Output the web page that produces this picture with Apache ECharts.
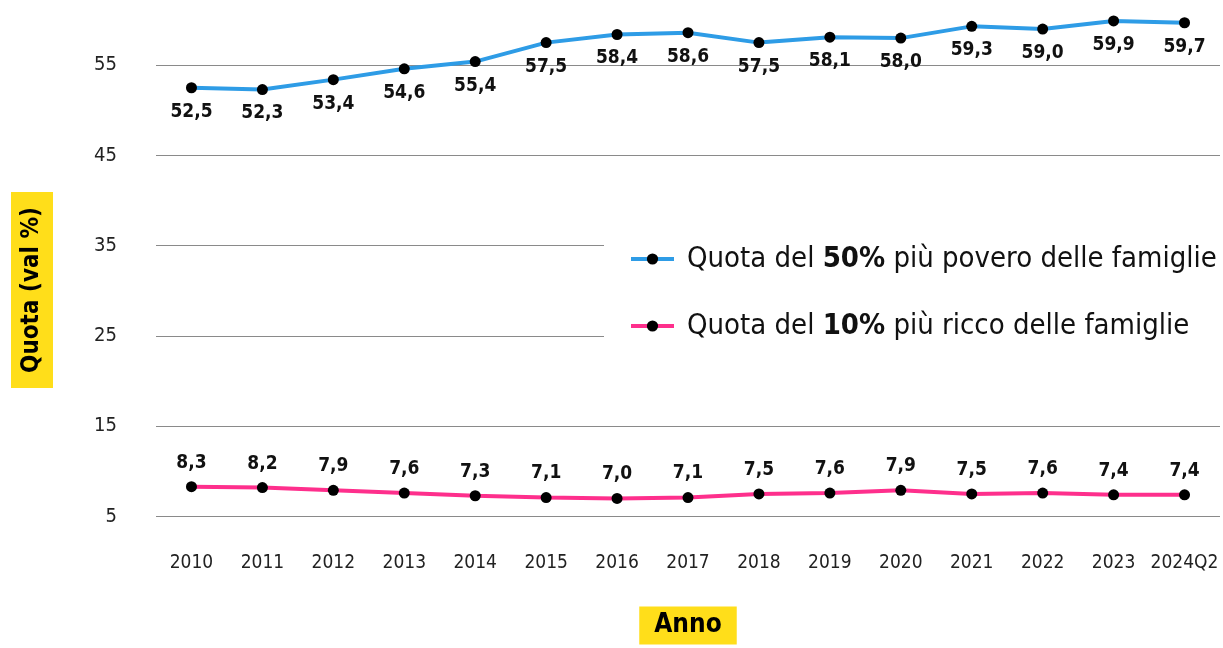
<!DOCTYPE html>
<html>
<head>
<meta charset="utf-8">
<script src="https://cdn.jsdelivr.net/npm/echarts@6/dist/echarts.min.js"></script>
<style>
  html, body { margin: 0; padding: 0; background: #fff; }
  #chart { width: 1223px; height: 648px; }
</style>
</head>
<body>
<div id="chart"></div>
<script>
(function() {
  var FONT = '"DejaVu Sans Condensed", "DejaVu Sans", sans-serif';
  var blue = '#2e9ce6';
  var pink = '#fe2f8c';
  var yellow = '#ffde1a';

  // --- data ---
  var years = ['2010', '2011', '2012', '2013', '2014', '2015', '2016', '2017',
    '2018', '2019', '2020', '2021', '2022', '2023', '2024Q2'];
  var poorShare = [52.5, 52.3, 53.4, 54.6, 55.4, 57.5, 58.4, 58.6, 57.5, 58.1, 58.0, 59.3, 59.0, 59.9, 59.7];
  var richShare = [8.3, 8.2, 7.9, 7.6, 7.3, 7.1, 7.0, 7.1, 7.5, 7.6, 7.9, 7.5, 7.6, 7.4, 7.4];
  var seriesNames = ['Quota del 50% più povero delle famiglie', 'Quota del 10% più ricco delle famiglie'];
  var yAxisTitle = 'Quota (val %)';
  var xAxisTitle = 'Anno';

  function fmt(v) { return v.toFixed(1).replace('.', ','); }

  var chart = echarts.init(document.getElementById('chart'), null, { renderer: 'canvas' });

  function lineSeries(name, data, color, labelPos) {
    return {
      name: name,
      type: 'line',
      data: data,
      symbol: 'circle',
      symbolSize: 11,
      lineStyle: { color: color, width: 4 },
      itemStyle: { color: '#000' },
      label: {
        show: true,
        position: labelPos,
        distance: 9,
        color: '#111',
        fontFamily: FONT,
        fontWeight: 'bold',
        fontSize: 19,
        formatter: function(p) { return fmt(p.value); }
      },
      emphasis: { disabled: true }
    };
  }

  chart.setOption({
    animation: false,
    backgroundColor: '#fff',
    textStyle: { fontFamily: FONT },
    grid: { left: 156, right: 3, top: 2, bottom: 131.5, outerBoundsMode: 'none', containLabel: false },
    xAxis: {
      type: 'category',
      data: years,
      boundaryGap: true,
      axisLine: { show: false },
      axisTick: { show: false },
      axisLabel: { color: '#222', fontSize: 19, margin: 37, fontFamily: FONT, interval: 0 },
      name: xAxisTitle,
      nameLocation: 'middle',
      nameGap: 90,
      nameTextStyle: {
        color: '#000', fontSize: 26, fontWeight: 'bold', fontFamily: FONT,
        backgroundColor: yellow, padding: [6, 15, 6, 15]
      }
    },
    yAxis: {
      type: 'value',
      min: 5,
      max: 62,
      interval: 10,
      axisLine: { show: false },
      axisTick: { show: false },
      axisLabel: { color: '#222', fontSize: 20, margin: 39, fontFamily: FONT, showMaxLabel: false },
      splitLine: { showMaxLine: false, lineStyle: { color: '#8a8a8a', width: 1 } }
    },
    graphic: [{
      type: 'text',
      x: 32,
      y: 290,
      rotation: Math.PI / 2,
      z: 10,
      style: {
        text: yAxisTitle,
        fill: '#000',
        fontSize: 24,
        fontWeight: 'bold',
        fontFamily: FONT,
        align: 'center',
        verticalAlign: 'middle',
        backgroundColor: yellow,
        padding: [9, 15, 9, 15]
      }
    }],
    legend: {
      orient: 'vertical',
      left: 604,
      top: 222,
      backgroundColor: '#fff',
      padding: [22, 80, 22, 25],
      itemWidth: 43,
      itemHeight: 14,
      itemGap: 37,
      lineStyle: { width: 4 },
      data: seriesNames,
      formatter: function(name) {
        var m = name.match(/^(.*?)(\d+%)(.*)$/);
        return m[1] + '{b|' + m[2] + '}' + m[3];
      },
      textStyle: {
        color: '#111', fontSize: 29, fontFamily: FONT, fontWeight: 'normal', lineHeight: 30,
        padding: [0, 0, 0, 8],
        rich: { b: { fontSize: 29, fontWeight: 'bold', fontFamily: FONT, color: '#111' } }
      }
    },
    series: [
      lineSeries(seriesNames[0], poorShare, blue, 'bottom'),
      lineSeries(seriesNames[1], richShare, pink, 'top')
    ]
  });
})();
</script>
</body>
</html>
